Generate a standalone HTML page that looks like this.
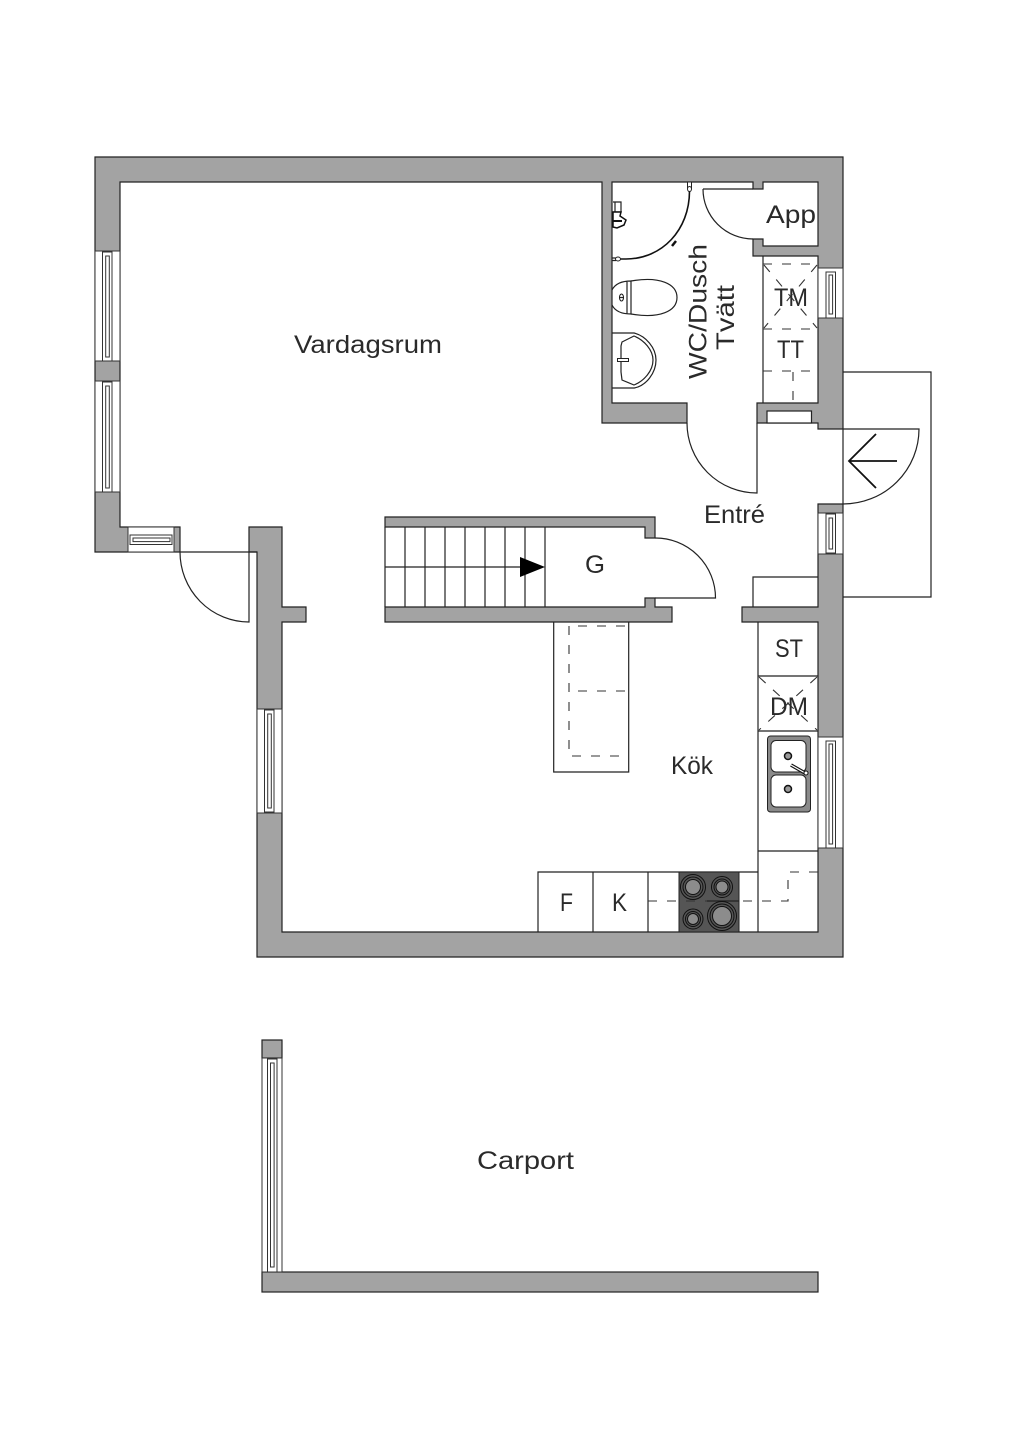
<!DOCTYPE html>
<html><head><meta charset="utf-8"><style>
html,body{margin:0;padding:0;background:#fff}
svg{display:block}
text{font-family:"Liberation Sans",sans-serif;font-size:25px;fill:#2a2a2a}
.w{fill:#a3a3a3;stroke:#222;stroke-width:1.2;stroke-linejoin:miter}
.l{fill:none;stroke:#222;stroke-width:1.2}
.wh{fill:#fff;stroke:#222;stroke-width:1.2}
.win rect{fill:#fff;stroke:#333;stroke-width:1}
.d{fill:none;stroke:#333;stroke-width:1.1;stroke-dasharray:9 10}
</style></head><body>
<svg width="1024" height="1448" viewBox="0 0 1024 1448" xmlns="http://www.w3.org/2000/svg">
<rect width="1024" height="1448" fill="#fff"/>

<!-- terrace -->
<path class="l" d="M843 372H931V597H843"/>

<!-- walls -->
<polygon class="w" points="95,157 843,157 843,429 818,429 818,423 757,423 757,403 818,403 818,256 753,256 753,239 763,239 763,246 818,246 818,182 763,182 763,189 753,189 753,182 612,182 612,403 687,403 687,423 602,423 602,182 120,182 120,527 180,527 180,552 95,552"/>
<polygon class="w" points="843,504 843,957 257,957 257,552 249,552 249,527 282,527 282,607 306,607 306,622 282,622 282,932 818,932 818,622 742,622 742,607 818,607 818,504"/>
<polygon class="w" points="385,517 655,517 655,538 645,538 645,527 385,527"/>
<polygon class="w" points="385,607 645,607 645,598 655,598 655,607 672,607 672,622 385,622"/>
<rect class="w" x="262" y="1040" width="20" height="18"/>
<rect class="w" x="262" y="1272" width="556" height="20"/>

<!-- windows -->
<g class="win">
<rect x="95" y="251" width="25" height="110"/><rect x="102.500" y="252" width="9.500" height="109"/><rect x="105.700" y="256" width="3.600" height="101"/>
<rect x="95" y="381" width="25" height="111"/><rect x="102.500" y="382" width="9.500" height="110"/><rect x="105.700" y="386" width="3.600" height="102"/>
<rect x="128" y="527" width="46" height="25"/><rect x="130" y="535" width="42" height="9.500"/><rect x="133" y="538" width="37" height="3.600"/>
<rect x="257" y="709" width="25" height="104"/><rect x="264.500" y="710" width="9.500" height="102"/><rect x="267.700" y="714" width="3.600" height="94"/>
<rect x="818" y="268" width="25" height="50"/><rect x="826" y="272" width="9.500" height="46"/><rect x="829" y="275" width="3.600" height="39"/>
<rect x="818" y="513" width="25" height="41"/><rect x="826" y="514" width="9.500" height="39"/><rect x="829" y="518" width="3.600" height="31"/>
<rect x="818" y="737" width="25" height="111"/><rect x="826" y="741" width="9.500" height="107"/><rect x="829" y="744" width="3.600" height="100"/>
<rect x="262" y="1058" width="20" height="214"/><rect x="267.500" y="1059" width="9.500" height="213"/><rect x="270.500" y="1063" width="3.600" height="204"/>
</g>

<!-- doors -->
<path class="l" d="M180 552H257M180 552A69 70 0 0 0 249 622V552"/>
<path class="l" d="M703 189H753M703 189A50 50 0 0 0 753 239"/>
<path class="l" d="M687 423A70 70 0 0 0 757 493V423"/>
<path class="l" d="M655 538A60 60 0 0 1 715.500 598H655"/>
<path class="l" d="M843 429V504M843 429H919A76 75 0 0 1 843 504"/>
<path d="M897 461H849M876 434L849 461L876 488" fill="none" stroke="#111" stroke-width="1.800"/>

<!-- laundry -->
<rect class="wh" x="767" y="411" width="44.500" height="12"/>
<path class="l" d="M763 256V403"/>
<path class="d" d="M763 264H818M763 329H818M763 371H814M793 372V403"/>
<path class="d" d="M764 265L817 328M817 265L764 328"/>

<!-- entry box -->
<path class="l" d="M753 607V577H818"/>

<!-- stairs -->
<path class="l" d="M385 527V607M405 527V607M425 527V607M445 527V607M465 527V607M485 527V607M505 527V607M525 527V607M545 527V607M385 567H520"/>
<polygon points="520,557 545,567 520,577" fill="#000"/>

<!-- island -->
<path class="l" d="M553.700 622V772H628.700V622"/>
<path class="d" d="M569 626V756H620"/>
<path class="d" d="M578 626H629M578 691H629"/>

<!-- kitchen -->
<path class="l" d="M758 622V932M758 676H818M758 731H818M758 851H818"/>
<path class="l" d="M538 932V872H758M593 872V932M648 872V932"/>
<path class="d" d="M759 677L817 730M817 677L759 730"/>
<rect x="679" y="872" width="60" height="60" fill="#555" stroke="#222"/>
<path class="d" d="M648 901H788V872H818" stroke-dasharray="14 14"/>
<path d="M707 901H739" stroke="#222" stroke-width="1.200"/>
<g fill="none" stroke="#111" stroke-width="1">
<circle cx="693" cy="887" r="12.500"/><circle cx="693" cy="887" r="10"/><circle cx="693" cy="887" r="7.500" fill="#8c8c8c"/>
<circle cx="722" cy="887" r="10.500"/><circle cx="722" cy="887" r="8"/><circle cx="722" cy="887" r="6" fill="#8c8c8c"/>
<circle cx="693" cy="919" r="10"/><circle cx="693" cy="919" r="7.500"/><circle cx="693" cy="919" r="5.500" fill="#8c8c8c"/>
<circle cx="722" cy="916" r="14.500"/><circle cx="722" cy="916" r="12"/><circle cx="722" cy="916" r="9.500" fill="#8c8c8c"/>
</g>

<!-- sink -->
<rect x="767.500" y="736" width="43" height="76" rx="3" fill="#8a8a8a" stroke="#222"/>
<rect x="771" y="740.500" width="35" height="31.500" rx="5" fill="#fff" stroke="#222"/>
<rect x="771" y="775" width="35" height="32" rx="5" fill="#fff" stroke="#222"/>
<circle cx="788" cy="756" r="3.500" fill="#999" stroke="#111" stroke-width="1.500"/>
<circle cx="788" cy="789" r="3.500" fill="#999" stroke="#111" stroke-width="1.500"/>
<path d="M791 765L805 773" stroke="#111" stroke-width="3.500"/>
<path d="M791 765L805 773" stroke="#fff" stroke-width="1.200"/>
<circle cx="806" cy="773" r="2" fill="#fff" stroke="#111"/>

<!-- shower -->
<path d="M689.500 191C689.500 230 662 259 626 259H619" fill="none" stroke="#111" stroke-width="1.600"/>
<rect x="687.500" y="182" width="4" height="6" fill="#fff" stroke="#222" stroke-width="1"/>
<ellipse cx="689.500" cy="189" rx="2" ry="2.500" fill="#fff" stroke="#222" stroke-width="1"/>
<path class="l" d="M612 258H616M612 260.500H616"/>
<ellipse cx="618" cy="259" rx="2.500" ry="2" fill="#fff" stroke="#222" stroke-width="1"/>
<path d="M672 246L676 241" stroke="#111" stroke-width="2.500"/>
<!-- shower mixer -->
<path class="l" d="M613 202H621V212H613M615 202V212"/>
<path d="M613 212H621L620 216L626 220L624 225L617 228L613 227Z" fill="#fff" stroke="#111" stroke-width="1.500"/>
<path d="M613 221H622" stroke="#111" stroke-width="2"/>
<!-- toilet -->
<path class="l" d="M631 281C660 276 677 284 677 297.500C677 311 660 319 631 314"/>
<path class="l" d="M612 290C615 284 622 281 631 281V314C622 314 615 311 612 305M627 281.500V313.500"/>
<ellipse cx="621.500" cy="297.500" rx="2" ry="3.500" fill="#fff" stroke="#111"/>
<path class="l" d="M620 297.500H623"/>
<!-- basin -->
<path class="l" d="M612 333H634C646 336 656 348 656 360C656 373 646 386 634 388H612"/>
<path class="l" d="M622 342L634 336C644 340 653 350 653 360C653 371 644 381 634 385L622 380L621 372V346Z"/>
<path d="M617 360H629" stroke="#222" stroke-width="4"/>
<path d="M618 360H628" stroke="#fff" stroke-width="2"/>

<!-- labels -->
<text x="294" y="353" textLength="148" lengthAdjust="spacingAndGlyphs">Vardagsrum</text>
<text x="766" y="223" textLength="50" lengthAdjust="spacingAndGlyphs">App</text>
<text transform="translate(706.500 379) rotate(-90)" textLength="135" lengthAdjust="spacingAndGlyphs">WC/Dusch</text>
<text transform="translate(734 350) rotate(-90)" textLength="65" lengthAdjust="spacingAndGlyphs">Tvätt</text>
<text x="774" y="306" textLength="34" lengthAdjust="spacingAndGlyphs">TM</text>
<text x="777" y="358" textLength="27" lengthAdjust="spacingAndGlyphs">TT</text>
<text x="704" y="523" textLength="61" lengthAdjust="spacingAndGlyphs">Entré</text>
<text x="585" y="573" textLength="20" lengthAdjust="spacingAndGlyphs">G</text>
<text x="671" y="774" textLength="42" lengthAdjust="spacingAndGlyphs">Kök</text>
<text x="775" y="657" textLength="28" lengthAdjust="spacingAndGlyphs">ST</text>
<text x="770" y="715" textLength="38" lengthAdjust="spacingAndGlyphs">DM</text>
<text x="560" y="911" textLength="13" lengthAdjust="spacingAndGlyphs">F</text>
<text x="612" y="911" textLength="15" lengthAdjust="spacingAndGlyphs">K</text>
<text x="477" y="1169" textLength="97" lengthAdjust="spacingAndGlyphs">Carport</text>
</svg>
</body></html>
